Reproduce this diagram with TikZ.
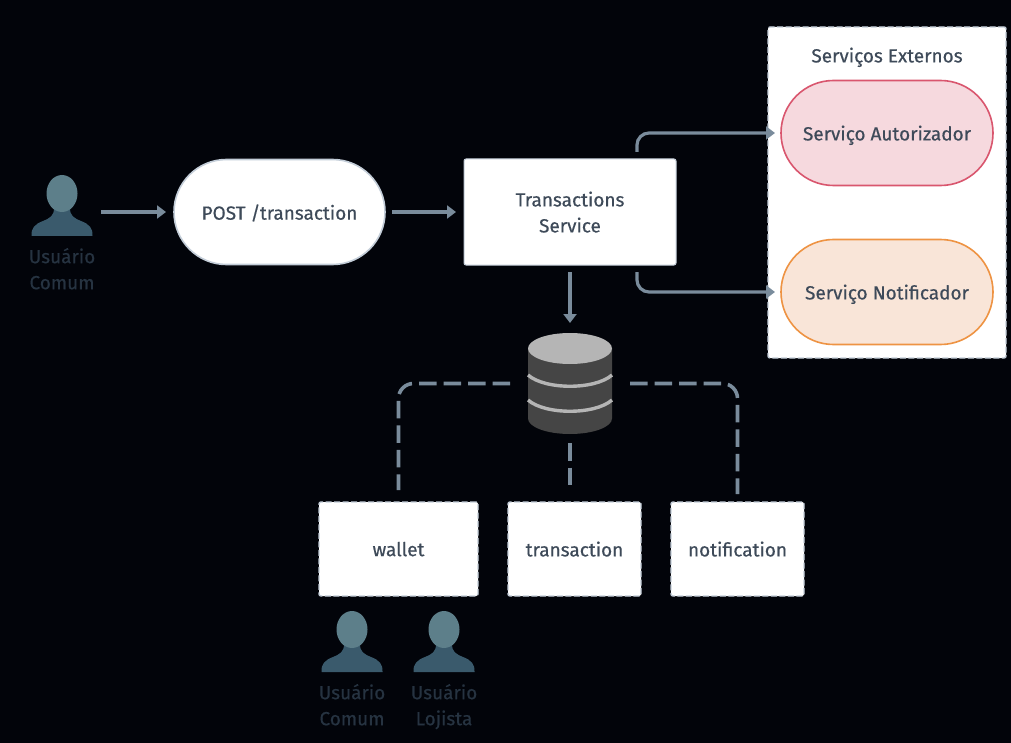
\documentclass[tikz,border=0pt]{standalone}
\usepackage{fontspec}
\setmainfont[RawFeature={embolden=0.5}]{Fira Sans}
\usetikzlibrary{arrows.meta,calc}
\definecolor{bgc}{HTML}{02040A}
\definecolor{linec}{HTML}{7A8C9C}
\definecolor{txt}{HTML}{3E4A59}
\definecolor{dimtxt}{HTML}{263341}
\definecolor{headc}{HTML}{5D7F8A}
\definecolor{bodyc}{HTML}{3A5A6C}
\definecolor{edgec}{HTML}{C3CDD8}
\definecolor{dbdark}{HTML}{454545}
\definecolor{dblight}{HTML}{B5B5B5}
\definecolor{authE}{HTML}{D9566E}
\definecolor{authF}{HTML}{F6D9DE}
\definecolor{notifE}{HTML}{EE9343}
\definecolor{notifF}{HTML}{F9E5D8}
\tikzset{
  x=1pt,y=-1pt,
  every node/.style={font=\fontsize{19}{26}\selectfont,text=txt,align=center,inner sep=0pt,outer sep=0pt,text depth=0pt},
  pill/.style={draw=edgec,fill=white,line width=1.6pt,rounded corners=52.5pt,minimum height=105pt},
  servbox/.style={draw=edgec,fill=white,line width=1pt,rounded corners=2pt},
  dashbox/.style={draw=edgec,fill=white,line width=1.4pt,dash pattern=on 6pt off 2.5pt,rounded corners=2pt},
  flow/.style={draw=linec,line width=3.2pt,-{Triangle[length=9pt,width=13pt]}},
  flowrnd/.style={flow,rounded corners=12pt},
  store/.style={draw=linec,line width=3.6pt,dash pattern=on 17.5pt off 7pt,rounded corners=15pt},
  personlabel/.style={text=dimtxt}
}
\newcommand{\personfig}[4]{%
  \fill[bodyc] (#2-30.5,#3+61) -- (#2+30.5,#3+61)
     .. controls (#2+31,#3+53) and (#2+27,#3+49) .. (#2+19,#3+46)
     .. controls (#2+12,#3+43) and (#2+8,#3+41) .. (#2+8,#3+33)
     -- (#2-8,#3+33)
     .. controls (#2-8,#3+41) and (#2-12,#3+43) .. (#2-19,#3+46)
     .. controls (#2-27,#3+49) and (#2-31,#3+53) .. (#2-30.5,#3+61) -- cycle;
  \fill[headc] (#2,#3+18.5) ellipse [x radius=15.5,y radius=18.5];
  \node[personlabel,minimum width=61pt,anchor=north] (#1) at (#2,#3+73) {#4};
}
\begin{document}
\begin{tikzpicture}
\useasboundingbox (0,0) rectangle (1011,743);
\fill[bgc] (0,0) rectangle (1011,743);

% persons
\personfig{userA}{62}{175}{Usuário\\Comum}
\personfig{userB}{352}{611}{Usuário\\Comum}
\personfig{userC}{444}{611}{Usuário\\Lojista}
\node[minimum width=61pt,minimum height=61pt] (userFig) at (62,205.5) {};

% main nodes
\node[pill,minimum width=211pt] (post) at (279.5,212) {POST /transaction};
\node[servbox,minimum width=212pt,minimum height=106pt] (svc) at (570,212) {Transactions\\Service};

% external group
\node[dashbox,minimum width=238pt,minimum height=331pt] (ext) at (887,192.5) {};
\node (extT) at (887,55) {Serviços Externos};
\node[pill,draw=authE,fill=authF,minimum width=212pt] (auth) at (887,133) {Serviço Autorizador};
\node[pill,draw=notifE,fill=notifF,minimum width=212pt] (notif) at (887,292) {Serviço Notificador};

% database
\node[minimum width=84pt,minimum height=101pt] (db) at (570,383.5) {};
\fill[dbdark] (528,348.5) -- (528,418.5) arc[start angle=180,end angle=360,x radius=42,y radius=-15.5] -- (612,348.5) -- cycle;
\draw[dblight,line width=3.4pt] (528,375) .. controls (545,390) and (595,390) .. (612,375);
\draw[dblight,line width=3.4pt] (528,400) .. controls (545,415) and (595,415) .. (612,400);
\fill[dblight] (570,348.5) ellipse [x radius=42,y radius=15.5];

% collections
\node[dashbox,minimum width=159pt,minimum height=94pt] (wallet) at (398.5,549) {wallet};
\node[dashbox,minimum width=133pt,minimum height=94pt] (trans) at (574.5,549) {transaction};
\node[dashbox,minimum width=133pt,minimum height=94pt] (notifc) at (737.5,549) {notification};

% flows
\draw[flow,shorten <=39pt,shorten >=8pt] (userFig.center) ++(0,6.5) coordinate (uo) (uo) -- (uo-|post.west);
\draw[flow,shorten <=7pt,shorten >=8pt] (post.east) -- (svc.west);
\draw[flow,shorten <=7pt,shorten >=10pt] (svc.south) -- (db.north);
\draw[flowrnd,shorten <=7pt,shorten >=6pt] ([xshift=67pt]svc.north) |- (auth.west);
\draw[flowrnd,shorten <=7pt,shorten >=6pt] ([xshift=67pt]svc.south) |- (notif.west);
\draw[store,shorten <=18pt,shorten >=12pt] (db.west) -| (wallet.north);
\draw[store,shorten <=18pt,shorten >=8pt] (db.east) -| (notifc.north);
\draw[store,shorten <=9pt,shorten >=17pt] (db.south) -- (db.south|-trans.north);
\end{tikzpicture}
\end{document}
